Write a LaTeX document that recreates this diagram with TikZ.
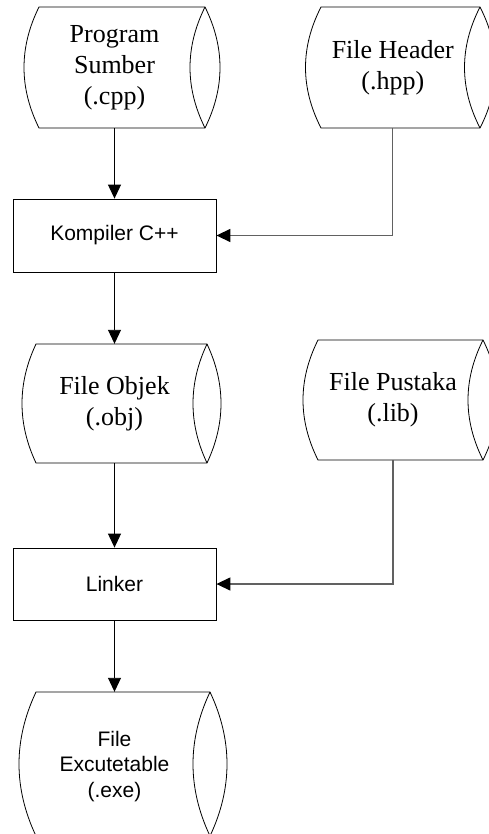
\documentclass[tikz,border=0pt]{standalone}
\usepackage{fontspec}
\setmainfont{Liberation Serif}
\setsansfont{Liberation Sans}
\usetikzlibrary{arrows.meta}

\tikzset{
  outline/.style={draw=black, line width=0.8pt},
  drumtext/.style={shape=rectangle, inner sep=0pt, align=center},
  serifbig/.style={font=\rmfamily\fontsize{26}{31}\selectfont},
  sanstext/.style={font=\sffamily\fontsize{21}{25.5}\selectfont},
  procbox/.style={outline, shape=rectangle, inner sep=0pt,
    minimum width=203pt, sanstext},
  flow/.style={draw=black, line width=0.9pt,
    -{Triangle[length=14pt, width=13pt]}},
  sideflow/.style={draw=black!62, line width=1.4pt,
    -{Triangle[length=14pt, width=13pt, color=black]}},
}

% storage symbol: straight top and bottom, convex left end, lens-shaped right end
% #1 text style, #2 name, #3 left x, #4 right x, #5 top y, #6 bottom y, #7 bulge, #8 text
\newcommand\drumshape[8][]{%
  \pgfmathsetmacro\dcx{(#3+#4-#7)/2}%
  \pgfmathsetmacro\dcy{(#5+#6)/2}%
  \pgfmathsetmacro\dw{#4-#7-#3}%
  \pgfmathsetmacro\dh{#6-#5}%
  \pgfmathsetmacro\dka{#5+(#6-#5)/3}%
  \pgfmathsetmacro\dkb{#6-(#6-#5)/3}%
  \pgfmathsetmacro\dbo{4/3*#7}%
  \draw[outline] (#3,#5) -- (#4,#5)
    .. controls (#4+\dbo,\dka) and (#4+\dbo,\dkb) .. (#4,#6)
    -- (#3,#6)
    .. controls (#3-\dbo,\dkb) and (#3-\dbo,\dka) .. cycle;
  \draw[outline] (#4,#5)
    .. controls (#4-\dbo,\dka) and (#4-\dbo,\dkb) .. (#4,#6);
  \node[drumtext, minimum width=\dw pt, minimum height=\dh pt, #1]
    (#2) at (\dcx,\dcy) {#8};%
}

\begin{document}
\begin{tikzpicture}[x=1pt, y=-1pt]
  \useasboundingbox (0,0) rectangle (488,834);

  % sources and files
  \drumshape[serifbig]{src}{39}{205}{7}{128}{15}{Program\\Sumber\\(.cpp)}
  \drumshape[serifbig]{hdr}{321}{480}{7}{128}{15.5}{File Header\\(.hpp)}
  \drumshape[serifbig]{obj}{36}{207}{344}{463}{14}{File Objek\\(.obj)}
  \drumshape[serifbig]{lib}{318}{483}{340}{460}{15}{File Pustaka\\(.lib)}
  \drumshape[sanstext, text depth=0pt]{exe}{36}{210}{692}{836}{17}{File\\Excutetable\\(.exe)}

  % processing steps
  \node[procbox, minimum height=73pt] (komp) at (114.5,235.5) {Kompiler C++};
  \node[procbox, minimum height=72pt] (link) at (114.5,584) {Linker};

  % main flow
  \draw[flow] (src.south) -- (komp.north);
  \draw[flow] (komp.south) -- (obj.north);
  \draw[flow] (obj.south) -- (link.north);
  \draw[flow] (link.south) -- (exe.north);

  % side inputs
  \draw[sideflow] (hdr.south) |- (komp.east);
  \draw[sideflow] (lib.south) |- (link.east);
\end{tikzpicture}
\end{document}
